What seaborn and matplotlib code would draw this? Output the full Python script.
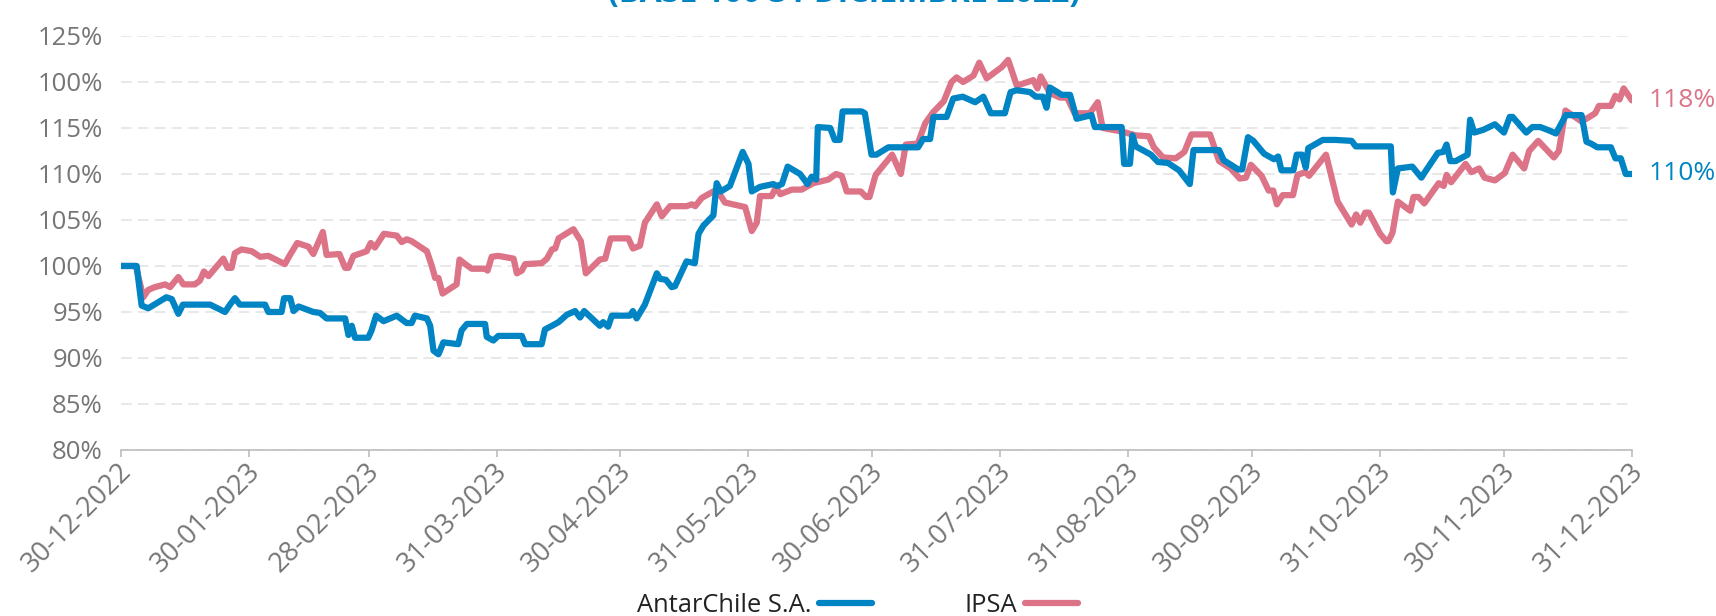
import pandas as pd
import seaborn as sns
import matplotlib.pyplot as plt
import matplotlib.transforms as mtransforms
from matplotlib.lines import Line2D

# Base 100 al 30-12-2022; los días se cuentan desde esa fecha
FECHA_BASE = "2022-12-30"

dias_antarchile = [
    0, 3.8, 5, 6.6, 11, 12.3, 13.9, 15, 21.6, 25.2, 26.4, 27.6, 28.8, 34.9, 35.7,
    38.9, 39.5, 41, 41.8, 43, 46.6, 48.2, 49.8, 54.3, 55.1, 55.9, 56.7, 59.9, 60.7,
    61.8, 63.6, 66.8, 69.2, 70.4, 71.2, 74.1, 74.9, 75.7, 76.9, 78.1, 81.7, 82.5,
    83.8, 88.2, 88.6, 90.2, 91.4, 97.1, 97.9, 101.9, 102.7, 104.4, 106, 108, 110,
    111.2, 112.2, 116, 116.8, 118, 118.9, 123.3, 124, 124.9, 126.9, 129.8, 130.6,
    132, 133.4, 134.2, 137, 139, 139.9, 141.1, 143.5, 144.3, 145.3, 147.5, 150.6,
    152, 152.8, 154.8, 158, 158.9, 160.1, 161.5, 164.5, 166.3, 167.3, 168.4, 168.8,
    171.8, 172.9, 174.1, 174.8, 179.4, 180.2, 181.8, 183, 185.9, 193.1, 194.3, 196,
    196.8, 200, 201.6, 203.9, 206.9, 208.9, 210.7, 214.1, 215.5, 217, 220.2, 221.6,
    223.3, 224.2, 225, 227.9, 229.9, 231.5, 235.1, 235.9, 242.4, 243, 244.4, 245,
    245.8, 249.5, 251.2, 253.6, 256.3, 258.9, 259.8, 266, 267.1, 270.6, 271.6, 273,
    274.3, 276.9, 279.3, 280.3, 281.1, 284, 284.8, 286.1, 287, 287.6, 291.1, 294.2,
    298.1, 299.1, 307.6, 308.1, 309.3, 312.8, 315, 316, 319, 320.3, 321.1, 322,
    323.3, 326.2, 326.8, 327.8, 330, 332.8, 335, 336.4, 337.1, 340.4, 341.9, 343.8,
    346.1, 347.6, 350, 353.8, 355, 356.1, 357.6, 360.9, 362, 363.3, 364.5, 366,
]
valores_antarchile = [
    100.0, 100.0, 95.7, 95.4, 96.6, 96.4, 94.8, 95.8, 95.8, 95.0, 95.8, 96.5, 95.8, 95.8, 95.0,
    95.0, 96.5, 96.5, 95.1, 95.6, 95.0, 94.9, 94.3, 94.3, 92.5, 93.5, 92.2, 92.2, 93.0,
    94.6, 94.0, 94.6, 93.8, 93.8, 94.6, 94.3, 93.5, 90.8, 90.4, 91.7, 91.5, 93.0,
    93.7, 93.7, 92.3, 91.9, 92.4, 92.4, 91.5, 91.5, 93.1, 93.5, 93.9, 94.7, 95.1,
    94.4, 95.1, 93.5, 93.9, 93.4, 94.6, 94.6, 95.1, 94.3, 95.8, 99.2, 98.6,
    98.5, 97.7, 97.8, 100.5, 100.3, 103.5, 104.4, 105.5, 109.0, 108.1, 108.7, 112.4,
    111.1, 108.1, 108.6, 108.9, 108.7, 108.9, 110.8, 110.0, 108.9, 109.7, 109.4, 115.1,
    115.0, 113.7, 113.7, 116.8, 116.8, 116.6, 112.1, 112.1, 112.9, 112.9, 113.8, 113.8,
    116.2, 116.2, 118.2, 118.4, 117.8, 118.4, 116.6, 116.6, 118.9, 119.1, 118.9, 118.4,
    118.4, 117.2, 119.4, 118.6, 118.6, 116.0, 116.4, 115.1, 115.1, 111.1, 111.1, 114.2,
    113.0, 112.1, 111.3, 111.2, 110.4, 108.9, 112.6, 112.6, 111.5, 110.5, 110.5, 114.0,
    113.6, 112.2, 111.6, 111.9, 110.4, 110.4, 112.1, 112.1, 110.7, 112.8, 113.7, 113.7,
    113.6, 113.0, 113.0, 108.0, 110.6, 110.8, 109.6, 110.3, 112.3, 112.4, 113.2, 111.4,
    111.4, 112.1, 115.9, 114.5, 114.8, 115.4, 114.5, 116.2, 116.2, 114.5, 115.1, 115.1,
    114.7, 114.4, 116.4, 116.4, 113.5, 113.3, 112.9, 112.9, 111.7, 111.7, 110.0, 110.0,
]

dias_ipsa = [
    0, 3.6, 5.4, 6.6, 8.2, 10.7, 11.9, 13.9, 15.1, 17.9, 19.1, 20.1, 21.2, 24.8, 25.8,
    26.8, 27.6, 29.2, 31.7, 33.7, 35.7, 39.7, 40.8, 42.7, 45.4, 46.6, 48.9, 49.8,
    52.9, 54.3, 55.1, 56.3, 59.5, 60.5, 61.5, 63.7, 66.8, 68, 69.2, 70.4, 74.1, 75.3,
    76.1, 76.9, 77.9, 81.3, 82, 83.4, 85, 88.2, 88.8, 89.8, 91.4, 95.1, 95.9, 97.1,
    97.9, 101.9, 103.2, 104.4, 105.2, 106, 109.6, 111.4, 112.6, 116, 117.3, 118.6,
    122.9, 124, 125.7, 126.9, 129.8, 131, 133, 137, 138.3, 139.1, 140.7, 144.3,
    146.3, 151.2, 152.8, 154, 154.8, 157.6, 158.7, 159.7, 162.5, 164.9, 167.7, 171.4,
    173.2, 174.6, 175.8, 179.2, 180.5, 181.3, 182.8, 186.8, 188.9, 190.1, 193, 194.8,
    196.7, 199.3, 201.2, 202.4, 204, 206.5, 207.9, 209.7, 213.3, 214.9, 217, 221,
    222, 222.8, 225, 227.5, 229.2, 231, 234.7, 236.6, 237.8, 242.6, 245.7, 249,
    250.2, 252.4, 255.5, 257.6, 259.3, 263.8, 266, 268.8, 271, 272.5, 273.7, 276.3,
    278, 279.1, 280, 281.4, 283.9, 285, 286.9, 287.8, 291.9, 294.7, 298.1, 299.2,
    300.2, 301.4, 302.3, 305, 306.5, 307, 308, 309.3, 312.3, 313.1, 314.3, 315.7,
    319.2, 320.4, 321.1, 322.2, 325.7, 327.1, 329, 330.3, 332.8, 335.2, 337.1, 339.9,
    341.1, 343.3, 347.1, 348.3, 349.9, 353.8, 355.7, 357.1, 358, 360.9, 362, 363,
    364, 366,
]
valores_ipsa = [
    100.0, 100.0, 96.6, 97.4, 97.7, 98.0, 97.7, 98.8, 98.0, 98.0, 98.4, 99.4, 98.9, 100.8, 99.8,
    99.8, 101.4, 101.8, 101.6, 101.0, 101.1, 100.2, 101.1, 102.5, 102.1, 101.3, 103.7, 101.2,
    101.3, 99.8, 99.8, 101.1, 101.6, 102.5, 102.0, 103.5, 103.3, 102.6, 102.9, 102.7, 101.6, 100.0,
    98.7, 98.7, 97.0, 98.0, 100.7, 100.2, 99.7, 99.7, 99.5, 101.0, 101.1, 100.8, 99.2, 99.5,
    100.2, 100.3, 100.8, 101.8, 101.9, 103.0, 104.0, 102.7, 99.2, 100.7, 100.8, 103.0,
    103.0, 101.9, 102.2, 104.7, 106.7, 105.4, 106.5, 106.5, 106.7, 106.5, 107.4, 108.3,
    106.9, 106.4, 103.8, 104.7, 107.6, 107.6, 108.6, 107.8, 108.3, 108.3, 109.0, 109.4,
    110.0, 109.8, 108.1, 108.1, 107.5, 107.5, 109.9, 112.1, 110.0, 113.2, 113.3, 115.5,
    116.7, 117.9, 120.0, 120.5, 120.0, 120.7, 122.1, 120.4, 121.6, 122.4, 119.6, 120.2,
    119.3, 120.6, 118.8, 118.3, 118.3, 116.6, 116.6, 117.8, 115.0, 114.6, 114.2, 114.1,
    112.9, 111.8, 111.7, 112.4, 114.3, 114.3, 111.4, 110.6, 109.5, 109.6, 111.0, 109.8,
    108.2, 108.2, 106.7, 107.7, 107.7, 109.9, 110.2, 109.8, 112.1, 107.0, 104.5, 105.6,
    104.7, 105.8, 105.8, 103.5, 102.7, 102.7, 103.6, 107.0, 106.0, 107.5, 107.5, 106.8,
    109.0, 108.7, 109.9, 109.1, 111.1, 110.2, 110.6, 109.6, 109.3, 110.1, 112.1, 110.6,
    112.5, 113.6, 111.8, 112.5, 116.9, 115.7, 116.2, 116.6, 117.4, 117.4, 118.5, 118.1,
    119.3, 118.0,
]

fechas_ticks = [
    "2022-12-30", "2023-01-30", "2023-02-28", "2023-03-31", "2023-04-30",
    "2023-05-31", "2023-06-30", "2023-07-31", "2023-08-31", "2023-09-30",
    "2023-10-31", "2023-11-30", "2023-12-31",
]
valores_y = [80, 85, 90, 95, 100, 105, 110, 115, 120, 125]
etiquetas_y = ["80%", "85%", "90%", "95%", "100%", "105%", "110%", "115%", "100%", "125%"]

AZUL = "#0084c3"
ROSA = "#dc7387"
GRIS_TEXTO = "#767676"
GRIS_EJE = "#b8b8b8"


def armar_serie(dias, valores):
    base = pd.Timestamp(FECHA_BASE)
    return pd.DataFrame({
        "fecha": base + pd.to_timedelta(dias, unit="D"),
        "valor": valores,
    })


df_antar = armar_serie(dias_antarchile, valores_antarchile)
df_ipsa = armar_serie(dias_ipsa, valores_ipsa)

sns.set_theme(style="white")
plt.rcParams["font.family"] = ["Open Sans", "DejaVu Sans"]

fig, ax = plt.subplots(figsize=(17.16, 6.16), dpi=100)
fig.subplots_adjust(left=0.0705, right=0.951, bottom=0.2695, top=0.9416)

estilo_linea = dict(linewidth=4.5, solid_joinstyle="round", solid_capstyle="round")
sns.lineplot(data=df_ipsa, x="fecha", y="valor", color=ROSA, estimator=None,
             sort=False, ax=ax, **estilo_linea)
sns.lineplot(data=df_antar, x="fecha", y="valor", color=AZUL, estimator=None,
             sort=False, ax=ax, **estilo_linea)

base = pd.Timestamp(FECHA_BASE)
ax.set_xlim(base, base + pd.Timedelta(days=366))
ax.set_ylim(80, 125)

# eje y: solo etiquetas y grilla punteada
ax.set_yticks(valores_y, etiquetas_y)
ax.yaxis.grid(True, linestyle=(0, (7, 4)), color="#e2e2e2", linewidth=1.1)
ax.xaxis.grid(False)
ax.set_axisbelow(True)
ax.tick_params(axis="y", length=0, pad=13, labelsize=18.5, labelcolor=GRIS_TEXTO)

# eje x con fechas rotadas
ticks = pd.to_datetime(fechas_ticks)
ax.set_xticks(ticks, [t.strftime("%d-%m-%Y") for t in ticks])
ax.tick_params(axis="x", bottom=True, length=5, width=1.1, color=GRIS_EJE,
               pad=7.5, labelsize=19.5, labelcolor=GRIS_TEXTO)
desplazamiento = mtransforms.ScaledTranslation(5 / 72, 0, fig.dpi_scale_trans)
for lbl in ax.get_xticklabels():
    lbl.set_rotation(45)
    lbl.set_ha("right")
    lbl.set_va("center")
    lbl.set_rotation_mode("anchor")
    lbl.set_transform(lbl.get_transform() + desplazamiento)

sns.despine(ax=ax, left=True)
ax.spines["bottom"].set_color(GRIS_EJE)
ax.spines["bottom"].set_linewidth(1.1)
ax.set_xlabel("")
ax.set_ylabel("")

# valores finales al lado de cada serie
for df, color in [(df_ipsa, ROSA), (df_antar, AZUL)]:
    ultimo = df.iloc[-1]
    ax.annotate(f"{ultimo['valor']:.0f}%", xy=(ultimo["fecha"], ultimo["valor"]),
                xytext=(12, 0), textcoords="offset points", ha="left", va="center",
                fontsize=19, color=color, annotation_clip=False)

fig.text(0.492, 0.9975, "(BASE 100 31 DICIEMBRE 2022)", ha="center", va="baseline",
         fontsize=23, fontweight="bold", color=AZUL)

handles = [
    Line2D([], [], color=AZUL, linewidth=4.5, solid_capstyle="round"),
    Line2D([], [], color=ROSA, linewidth=4.5, solid_capstyle="round"),
]
fig.legend(handles, ["AntarChile S.A.", "IPSA"], loc="center",
           bbox_to_anchor=(0.4997, 0.0175), ncol=2, frameon=False, markerfirst=False,
           fontsize=18.4, handlelength=2.1, handletextpad=0.3, columnspacing=3.6,
           labelcolor="#222222")

fig.savefig("out.png", dpi=100)
plt.close(fig)
